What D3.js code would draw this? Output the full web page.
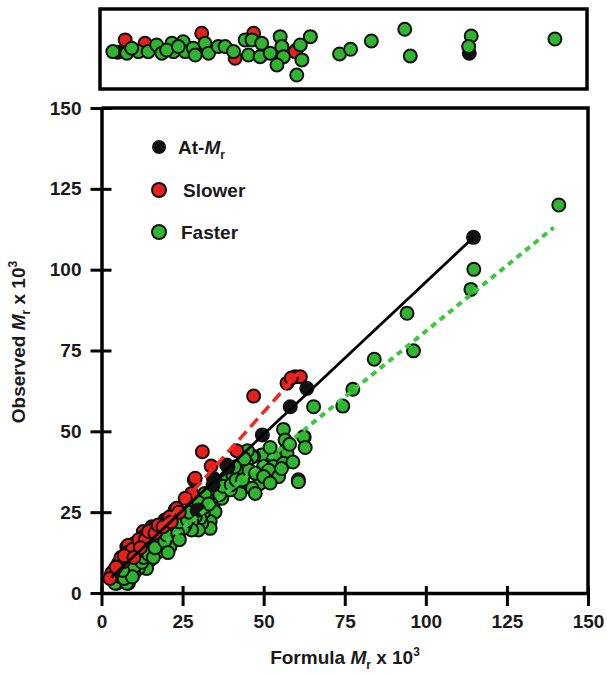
<!DOCTYPE html>
<html>
<head>
<meta charset="utf-8">
<script src="https://cdn.jsdelivr.net/npm/d3@7"></script>
<style>
  body { margin: 0; background: #fff; }
  svg text { font-family: "Liberation Sans", Arial, sans-serif; font-weight: bold; fill: #1a1a1a; }
</style>
</head>
<body>
<svg id="chart" width="607" height="674"></svg>
<script>
// ── Data: [formula Mr x 10^3, observed Mr x 10^3] ────────────────────────────
const atMrPts = [
  [114.7,110],[63.3,63.3],[58.2,57.6],[49.6,48.9],[38.6,39.6],[39,39],
  [34.5,35.5],[34.4,33.4],[29.9,25.7]
];
const slowerPts = [
  [59.7,66.9],[57.2,64.9],[61.3,66.9],[58.5,66.5],[46.9,60.9],[31.1,43.7],
  [41.7,44],[33.8,39.3],[28.6,35],[28.9,35.5],[27.8,30.8],[25.8,29.3],[22.7,25.7],
  [23.2,26.2],[24,25],[19.6,22.6],[20.1,22.1],[18,21],[17,19],[15.5,20.5],[16,20],
  [14,18],[12.9,19],[12.9,17.4],[12.9,15.9],[11,14],[10.3,15.4],[7.8,14.3],
  [8.3,14.8],[10.9,12.8],[9,12],[6.7,9.7],[5.2,9.2],[3.6,6.6],[3.1,6.1],[2.6,4.5],
  [6,11],[8,12.5],[9.5,13.5],[11.5,16.5],[13.5,16.5],[14.5,19],[16.5,18.5],
  [17.5,21],[19,20.5],[21,23.5],[21.5,22],[4.5,8],[7,11.5],[12,14],[10,11]
];
const fasterPts = [
  [141,120],[114.8,100.1],[113.9,93.9],[94.2,86.5],[96.2,74.9],[84.1,72.3],
  [77.5,63],[74.4,57.8],[65.4,57.6],[62.5,48.2],[62.3,48.3],[62.8,45],[60.7,35],
  [60.7,34.4],[56.1,50.6],[56.6,47.3],[56.9,44.2],[57.2,43.2],[53.5,42.2],[50.5,42.7],
  [49.4,42.7],[46.9,42.2],[46.4,42.2],[44.8,40.1],[50,39.1],[53,39.1],[56.1,40.1],
  [51.5,38],[54.6,36],[48.9,35],[48.9,33.9],[46.4,32.4],[47.4,30.8],[42.7,32.9],
  [42.7,31.3],[42.7,30.8],[38.6,35.5],[38.6,34.7],[38.6,31.9],[39.7,31.9],[37.1,29.3],
  [34.5,29.8],[34.5,26.2],[35,31.3],[32.5,29.3],[31.9,30.8],[35,25.1],[33.5,22.1],
  [33.5,20],[31.4,24.8],[30.9,21.6],[30.4,23.1],[28.9,27.2],[31.9,26.7],[28.9,23.6],
  [29.9,19.5],[27.8,22.1],[27.8,19.5],[25.8,23.6],[25.2,24.1],[25.8,21],[25.2,20],
  [22.7,20.5],[22.2,20.5],[21.1,14.8],[21.1,14.3],[18,15.9],[17.5,16.4],[18,13.3],
  [17.5,12.8],[15,10.2],[11.9,8.7],[13.9,7.6],[11.4,7.6],[8.3,6.1],[5.7,4],[4.7,3],
  [4.2,3],[8.3,3],[7.8,3],[36,33],[40.5,36.5],[44,37],[45,44],[52,45],
  [6,5],[7,4.5],[10,6],[10,8],[12.5,9.5],[13,11],[14.5,12],[16,11],[16.5,14],
  [19.5,16],[20,18],[23.5,18.5],[24,22],[26.5,22.5],[27,25],[29.5,25.5],[30,28],
  [33,27.5],[36.5,30.5],[37.5,33],[40,33.5],[41.5,35],[43.5,35],[45.5,38],[47.5,37],
  [50,36],[52,34],[55.5,38.5],[58,46],[59,40.5],[44,41.5],[41,39],[24,16.5],
  [20.5,12.5],[9.5,5],[6.5,7]
];

// Fitted lines (end points)
const atMrFit   = [[3,4.8],[114.7,110]];
const slowerFit = [[18,20],[60.7,68]];
const fasterFit = [[20,15.9],[139.4,113]];

// Upper panel: [formula Mr x 10^3, observed / formula]
const topFaster = [
  [3.5,0.793],[7.8,0.784],[11.4,0.793],[14.4,0.793],[17,0.83],[18.6,0.784],[21.7,0.839],
  [22.2,0.793],[25.2,0.848],[25.8,0.793],[28.3,0.812],[31.9,0.839],[33,0.784],[36,0.821],
  [9.3,0.812],[20.1,0.802],[23.7,0.821],[28.9,0.774],[38.1,0.821],[40.7,0.793],[44.3,0.858],
  [46.4,0.858],[49.4,0.839],[45.3,0.774],[48.9,0.765],[55.1,0.876],[55.6,0.821],[56.1,0.765],
  [54.1,0.719],[61.3,0.83],[64.4,0.876],[61.8,0.747],[60.2,0.663],[52,0.784],[73.4,0.78],
  [76.8,0.806],[83.2,0.852],[93.5,0.917],[95.2,0.769],[114,0.88],[113.2,0.821],[139.8,0.863]
];
const topSlower = [[7.3,0.858],[13.4,0.839],[30.9,0.895],[46.9,0.895],[59.7,0.793],[41.2,0.756]];
const topAtMr   = [[113.4,0.784],[60,0.8],[5,0.79],[30,0.8]];

const xTicks = [0, 25, 50, 75, 100, 125, 150];
const yTicks = [0, 25, 50, 75, 100, 125, 150];

const RED = '#e8201c', GREEN = '#2fb52f', BLACK = '#111';

// ── Layout ─────────────────────────────────────────────────────────────────
const svg = d3.select('#chart');
const x = d3.scaleLinear().domain([0, 150]).range([101.5, 588]);
const y = d3.scaleLinear().domain([0, 150]).range([593, 108]);
const yTop = d3.scaleLinear().domain([0.591, 1.024]).range([88, 10]);

// ── Upper panel ───────────────────────────────────────────────────────────
const topG = svg.append('g');
topG.append('rect')
  .attr('x', 100).attr('y', 9).attr('width', 487).attr('height', 80)
  .attr('fill', '#fff').attr('stroke', '#000').attr('stroke-width', 3.5);

function dots(g, data, yS, fill) {
  g.selectAll(null).data(data).enter().append('circle')
    .attr('cx', d => x(d[0])).attr('cy', d => yS(d[1])).attr('r', 6.5)
    .attr('fill', fill).attr('stroke', '#111').attr('stroke-width', 2);
}
dots(topG, topAtMr, yTop, BLACK);
dots(topG, topSlower, yTop, RED);
dots(topG, topFaster, yTop, GREEN);

// ── Main panel ────────────────────────────────────────────────────────────
const mainG = svg.append('g');
dots(mainG, fasterPts, y, GREEN);
dots(mainG, slowerPts, y, RED);
dots(mainG, atMrPts, y, BLACK);

const line = d3.line().x(d => x(d[0])).y(d => y(d[1]));
mainG.append('path').datum(slowerFit).attr('d', line)
  .attr('fill', 'none').attr('stroke', '#f02a22').attr('stroke-width', 3.5)
  .attr('stroke-dasharray', '11,6');
mainG.append('path').datum(fasterFit).attr('d', line)
  .attr('fill', 'none').attr('stroke', '#3cc83c').attr('stroke-width', 4)
  .attr('stroke-dasharray', '6,5');
mainG.append('path').datum(atMrFit).attr('d', line)
  .attr('fill', 'none').attr('stroke', '#000').attr('stroke-width', 2.8);

// Frame (top & right borders)
svg.append('path')
  .attr('d', `M${x(0)},${y(150)}H${x(150)}V${y(0)}`)
  .attr('fill', 'none').attr('stroke', '#000').attr('stroke-width', 3.5);

// Axes
const xAxis = svg.append('g').attr('transform', `translate(0,${y(0)})`)
  .call(d3.axisBottom(x).tickValues(xTicks).tickSize(13).tickPadding(9).tickSizeOuter(0));
xAxis.selectAll('.tick line').attr('y1', -7);
const yAxis = svg.append('g').attr('transform', `translate(${x(0)},0)`)
  .call(d3.axisLeft(y).tickValues(yTicks).tickSize(11).tickPadding(9).tickSizeOuter(0));
yAxis.selectAll('.tick line').attr('x1', 10);

[xAxis, yAxis].forEach(a => {
  a.select('.domain').attr('stroke', '#000').attr('stroke-width', 3.5);
  a.selectAll('.tick line').attr('stroke', '#000').attr('stroke-width', 3);
  a.selectAll('.tick text').attr('font-size', 19).attr('fill', '#1a1a1a')
    .attr('font-family', '"Liberation Sans", Arial, sans-serif').attr('font-weight', 'bold');
});

// Axis titles
function mrTitle(t, lead) {
  t.append('tspan').text(lead);
  t.append('tspan').attr('font-style', 'italic').text('M');
  t.append('tspan').attr('font-size', 12).attr('dy', 5).text('r');
  t.append('tspan').attr('dy', -5).text(' x 10');
  t.append('tspan').attr('font-size', 12).attr('dy', -8).text('3');
}
const xt = svg.append('text').attr('x', 345).attr('y', 664)
  .attr('text-anchor', 'middle').attr('font-size', 19);
mrTitle(xt, 'Formula ');
const yt = svg.append('text').attr('transform', 'translate(25,342) rotate(-90)')
  .attr('text-anchor', 'middle').attr('font-size', 19);
mrTitle(yt, 'Observed ');

// Legend
const legend = [
  { label: 'At-', fill: BLACK, stroke: 'none', cx: 159, cy: 147, tx: 178 },
  { label: 'Slower', fill: RED, stroke: '#111', cx: 159, cy: 190, tx: 183 },
  { label: 'Faster', fill: GREEN, stroke: '#111', cx: 159, cy: 232, tx: 181 }
];
legend.forEach((l, i) => {
  svg.append('circle').attr('cx', l.cx).attr('cy', l.cy).attr('r', 7)
    .attr('fill', l.fill).attr('stroke', l.stroke).attr('stroke-width', 2);
  const t = svg.append('text').attr('x', l.tx).attr('y', l.cy + 7).attr('font-size', 19);
  t.append('tspan').text(l.label);
  if (i === 0) {
    t.append('tspan').attr('font-style', 'italic').text('M');
    t.append('tspan').attr('font-size', 12).attr('dy', 5).text('r');
  }
});
</script>
</body>
</html>
